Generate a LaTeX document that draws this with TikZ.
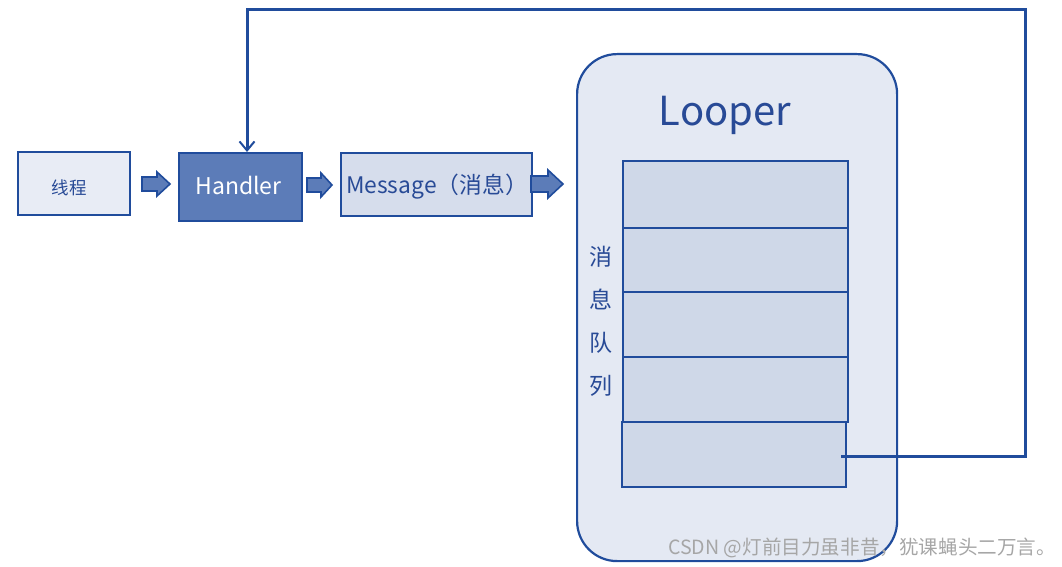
\documentclass[tikz,border=0pt]{standalone}
\usepackage{fontspec}
\setmainfont{Noto Sans CJK SC}
\usetikzlibrary{arrows.meta}
\definecolor{bdr}{RGB}{32,76,156}
\definecolor{hfill}{RGB}{92,124,184}
\definecolor{mfill}{RGB}{214,221,236}
\definecolor{tfill}{RGB}{232,236,245}
\definecolor{lfill}{RGB}{228,233,243}
\definecolor{qfill}{RGB}{207,216,232}
\definecolor{txt}{RGB}{40,74,150}
\tikzset{
  box/.style={draw=bdr, line width=2.2pt, anchor=north west, inner sep=0pt, text=txt},
  qbox/.style={draw=bdr, line width=2.2pt, fill=qfill, anchor=north west, inner sep=0pt},
  barrow/.style={draw=bdr, line width=1.6pt, fill=hfill, line join=miter},
  fbline/.style={draw=bdr, line width=3pt},
}
\begin{document}
\begin{tikzpicture}[x=1pt,y=-1pt]
\useasboundingbox (0,0) rectangle (1062,567);
% left boxes
\node[box, fill=tfill, minimum width=112pt, minimum height=63pt] (thread) at (17,151) {};
\node[text=txt, font=\fontsize{17.5}{20}\selectfont] (threadt) at (69,188) {线程};
\node[box, fill=hfill, minimum width=123pt, minimum height=68pt] (handler) at (178,152) {};
\node[text=white, font=\fontsize{23}{26}\selectfont] (handlert) at (238.5,185) {Handler};
\node[box, fill=mfill, minimum width=191pt, minimum height=63pt] (msg) at (340,152) {};
\node[text=txt, font=\fontsize{22.8}{26}\selectfont] (msgt) at (437,187) {Message（消息）};
% block arrows
\draw[barrow] (142,177) -- (157,177) -- (157,172) -- (170,184) -- (157,196) -- (157,191) -- (142,191) -- cycle;
\draw[barrow] (307,178) -- (321,178) -- (321,173) -- (332,185) -- (321,197) -- (321,192) -- (307,192) -- cycle;
\draw[barrow] (531,176) -- (548,176) -- (548,170) -- (563,184) -- (548,198) -- (548,192) -- (531,192) -- cycle;
% looper
\node[box, fill=lfill, rounded corners=40pt, minimum width=320pt, minimum height=507pt] (looper) at (576,53) {};
\node[text=txt, font=\fontsize{40}{46}\selectfont] (loopert) at (725,115) {Looper};
\node[qbox, minimum width=225pt, minimum height=67pt] (q1) at (622,160) {};
\node[qbox, minimum width=225pt, minimum height=64pt] (q2) at (622,227) {};
\node[qbox, minimum width=225pt, minimum height=65pt] (q3) at (622,291) {};
\node[qbox, minimum width=225pt, minimum height=65pt] (q4) at (622,356) {};
\node[qbox, minimum width=224pt, minimum height=65pt] (q5) at (621,421) {};
\node[text=txt, font=\fontsize{23}{43}\selectfont, align=center, inner sep=0pt] (qt) at (601,321) {消\\息\\队\\列};
% feedback
\coordinate (fb) at (841,456);
\coordinate (c1) at (1025,456);
\coordinate (c2) at (1025,10);
\coordinate (c3) at (247,10);
\draw[fbline, -{Straight Barb[length=9pt,width=15pt,line width=2pt]}] (fb) -- (c1) -- (c2) -- (c3) -- (c3 |- handler.north);
% watermark
\node[text=gray!70, font=\fontsize{19.6}{22}\selectfont, anchor=west, inner sep=0pt] (wm) at (668,548) {CSDN @灯前目力虽非昔，犹课蝇头二万言。};
\end{tikzpicture}
\end{document}
